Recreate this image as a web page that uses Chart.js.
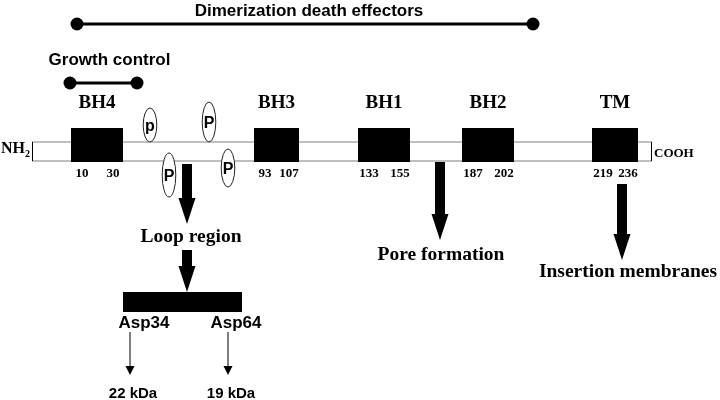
<!DOCTYPE html>
<html>
<head>
<meta charset="utf-8">
<script src="https://cdn.jsdelivr.net/npm/chart.js@4/dist/chart.umd.min.js"></script>
<style>
  html, body { margin: 0; padding: 0; background: #fff; }
  #wrap { width: 720px; height: 400px; position: relative; }
</style>
</head>
<body>
<div id="wrap"><canvas id="schema"></canvas></div>
<script>
// Domaines (unités du schéma, l'axe x va de 0 à 720)
const domainNames = ['BH4', 'BH3', 'BH1', 'BH2', 'TM'];
const domainFrom = [10, 93, 133, 187, 219];
const domainTo = [30, 107, 155, 202, 236];
const boxLeft = [71, 254, 358, 462, 592];
const boxRight = [123, 299, 410, 514, 638];
const chainStart = 32;
const chainEnd = 652;

// Régions fonctionnelles au-dessus
const rangeLabels = ['Dimerization death effectors', 'Growth control'];
const rangeFrom = [77, 70];
const rangeTo = [533, 137];
const rangeY = [24, 83];
const rangeLabelY = [16, 65];

// Sites de phosphorylation
const phosphoLabels = ['p', 'P', 'P', 'P'];
const phosphoX = [150, 209, 169, 228];
const phosphoY = [125, 122, 175, 168];
const phosphoH = [17, 20, 22, 19];

// Flèches vers les fonctions
const effectLabels = ['Loop region', 'Pore formation', 'Insertion membranes'];
const effectX = [187, 440, 622];
const effectTop = [164, 162, 184];
const effectTip = [224, 240, 260];
const effectLabelX = [191, 441, 628];
const effectLabelY = [242, 260, 277];

// Clivage par les caspases
const cleavageSites = ['Asp34', 'Asp64'];
const siteX = [144, 236];
const fragmentX = [130, 228];
const fragments = ['22 kDa', '19 kDa'];
const fragmentLabelX = [133, 231];

const SERIF = '"Liberation Serif", "Times New Roman", serif';
const SANS = '"Liberation Sans", Arial, sans-serif';

// Dessine les textes, ellipses et flèches avec les échelles du graphique
const diagramPlugin = {
    id: 'diagram',
    afterDatasetsDraw(chart) {
        const ctx = chart.ctx;
        const sx = chart.scales.x;
        const sy = chart.scales.y;
        const X = v => sx.getPixelForValue(v);
        const Y = v => sy.getPixelForValue(v);

        function text(str, x, y, font, align) {
            ctx.font = font;
            ctx.textAlign = align || 'center';
            ctx.textBaseline = 'alphabetic';
            ctx.fillStyle = '#000';
            ctx.fillText(str, X(x), Y(y));
        }

        function bigArrow(x, top, tip) {
            const headLen = 26, shaft = 5, head = 8.5;
            ctx.fillStyle = '#000';
            ctx.beginPath();
            ctx.moveTo(X(x) - shaft, Y(top));
            ctx.lineTo(X(x) + shaft, Y(top));
            ctx.lineTo(X(x) + shaft, Y(tip) - headLen);
            ctx.lineTo(X(x) + head, Y(tip) - headLen);
            ctx.lineTo(X(x), Y(tip));
            ctx.lineTo(X(x) - head, Y(tip) - headLen);
            ctx.lineTo(X(x) - shaft, Y(tip) - headLen);
            ctx.closePath();
            ctx.fill();
        }

        function thinArrow(x, top, tip) {
            ctx.strokeStyle = '#000';
            ctx.lineWidth = 1;
            ctx.beginPath();
            ctx.moveTo(X(x), Y(top));
            ctx.lineTo(X(x), Y(tip) - 6);
            ctx.stroke();
            ctx.fillStyle = '#000';
            ctx.beginPath();
            ctx.moveTo(X(x) - 4.5, Y(tip) - 9);
            ctx.lineTo(X(x) + 4.5, Y(tip) - 9);
            ctx.lineTo(X(x), Y(tip));
            ctx.closePath();
            ctx.fill();
        }

        ctx.save();

        // titres des régions
        rangeLabels.forEach((lab, i) => {
            text(lab, (rangeFrom[i] + rangeTo[i]) / 2 + (i === 0 ? 4 : 6), rangeLabelY[i], 'bold 17px ' + SANS);
        });

        // noms des domaines et bornes
        domainNames.forEach((name, i) => {
            const c = (boxLeft[i] + boxRight[i]) / 2;
            text(name, c, 108, 'bold 19px ' + SERIF);
            text(String(domainFrom[i]), boxLeft[i] + 11, 177, 'bold 13px ' + SERIF);
            text(String(domainTo[i]), boxRight[i] - 10, 177, 'bold 13px ' + SERIF);
        });

        // extrémités
        text('NH', 1, 153, 'bold 16px ' + SERIF, 'left');
        text('2', 25, 157, 'bold 10px ' + SERIF, 'left');
        text('COOH', chainEnd + 2, 157, 'bold 13px ' + SERIF, 'left');

        // sites phosphorylés
        phosphoLabels.forEach((lab, i) => {
            ctx.fillStyle = '#fff';
            ctx.strokeStyle = '#222';
            ctx.lineWidth = 1;
            ctx.beginPath();
            ctx.ellipse(X(phosphoX[i]), Y(phosphoY[i]), 6.8, phosphoH[i], 0, 0, Math.PI * 2);
            ctx.fill();
            ctx.stroke();
            text(lab, phosphoX[i], phosphoY[i] + 6, 'bold 16px ' + SANS);
        });

        // flèches des fonctions
        effectLabels.forEach((lab, i) => {
            bigArrow(effectX[i], effectTop[i], effectTip[i]);
            text(lab, effectLabelX[i], effectLabelY[i], 'bold 19.5px ' + SERIF);
        });

        // boucle -> fragment clivé
        bigArrow(effectX[0], 250, 292);
        ctx.fillStyle = '#000';
        ctx.fillRect(X(123), Y(292), X(242) - X(123), Y(312) - Y(292));

        cleavageSites.forEach((site, i) => {
            text(site, siteX[i], 328, 'bold 17px ' + SANS);
            thinArrow(fragmentX[i], 332, 375);
            text(fragments[i], fragmentLabelX[i], 398, 'bold 15px ' + SANS);
        });

        ctx.restore();
    }
};

const ctx = document.getElementById('schema').getContext('2d');
new Chart(ctx, {
    type: 'bar',
    data: {
        datasets: [
            {
                type: 'bar',
                label: 'chaîne',
                indexAxis: 'y',
                data: [{ x: [chainStart, chainEnd], y: 151.5 }],
                backgroundColor: '#fff',
                borderColor: '#000',
                borderWidth: 1,
                borderSkipped: false,
                barThickness: 20,
                grouped: false,
                inflateAmount: 0,
                order: 3
            },
            {
                type: 'bar',
                label: 'domaines',
                indexAxis: 'y',
                data: boxLeft.map((l, i) => ({ x: [l, boxRight[i]], y: 145 })),
                backgroundColor: '#000',
                borderWidth: 0,
                barThickness: 34,
                grouped: false,
                inflateAmount: 0,
                order: 2
            },
            ...rangeLabels.map((lab, i) => ({
                type: 'line',
                label: lab,
                data: [{ x: rangeFrom[i], y: rangeY[i] }, { x: rangeTo[i], y: rangeY[i] }],
                borderColor: '#000',
                borderWidth: 3,
                pointRadius: 6.5,
                pointBackgroundColor: '#000',
                pointBorderWidth: 0,
                clip: false,
                order: 1
            }))
        ]
    },
    options: {
        responsive: true,
        maintainAspectRatio: false,
        animation: false,
        layout: { padding: 0, autoPadding: false },
        scales: {
            x: { type: 'linear', min: 0, max: 720, offset: false, display: false },
            y: { type: 'linear', min: 0, max: 400, offset: false, reverse: true, display: false }
        },
        plugins: {
            legend: { display: false },
            tooltip: { enabled: false }
        }
    },
    plugins: [diagramPlugin]
});
</script>
</body>
</html>
